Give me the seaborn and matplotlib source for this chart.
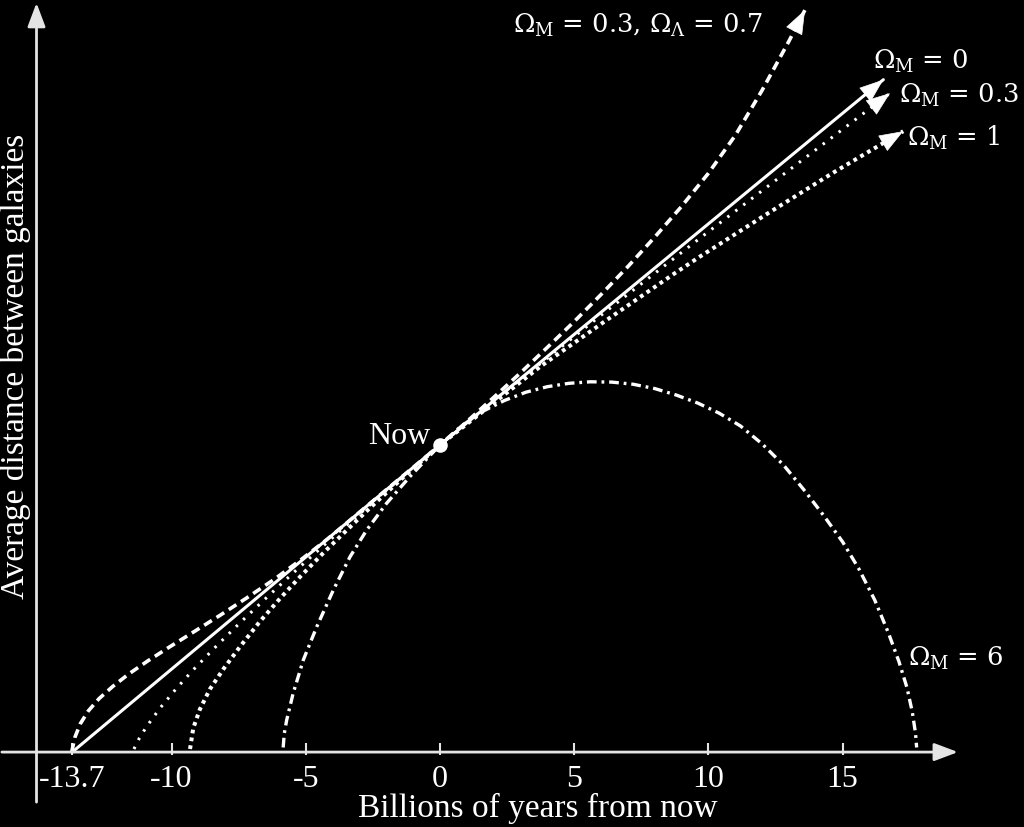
import matplotlib
matplotlib.use("Agg")
import matplotlib.pyplot as plt
import seaborn as sns
import pandas as pd

# ---------------- data ----------------
# time in billions of years from now, a = average distance (1 = now)
t_lambda = [-13.72, -13.6, -13.4, -13.1, -12.7, -12.2, -11.6, -10.9, -10.1, -9.2, -8.2,
            -7.2, -6.2, -5.2, -4.2, -3.2, -2.1, -1.0, 0.0, 1.0, 2.0, 3.0, 4.0, 5.0, 6.0,
            7.0, 8.0, 9.0, 10.0, 11.0, 12.0, 13.0, 13.6]
a_lambda = [0.0, 0.048, 0.092, 0.134, 0.174, 0.213, 0.254, 0.296, 0.341, 0.390, 0.445,
            0.502, 0.561, 0.625, 0.693, 0.766, 0.847, 0.927, 1.0, 1.076, 1.155, 1.235,
            1.318, 1.402, 1.490, 1.581, 1.677, 1.777, 1.885, 2.008, 2.155, 2.315, 2.417]

t_m0 = [-13.7, 0.0, 16.52]
a_m0 = [0.0, 1.0, 2.19]

t_m03 = [-11.40, -11.2, -10.93, -10.43, -9.81, -9.19, -8.32, -7.45, -6.46, -5.46, -4.47,
         -3.48, -1.74, 0.0, 2.24, 5.96, 9.69, 12.67, 16.77]
a_m03 = [0.01, 0.045, 0.083, 0.143, 0.208, 0.268, 0.346, 0.421, 0.503, 0.584, 0.662,
         0.739, 0.871, 1.0, 1.161, 1.420, 1.674, 1.873, 2.146]

t_m1 = [-9.31, -9.19, -8.94, -8.57, -8.07, -7.45, -6.71, -5.96, -5.22, -4.35, -3.48,
        -2.61, -1.30, 0.0, 3.73, 6.21, 8.69, 9.69, 12.17, 14.65, 17.26]
a_m1 = [0.01, 0.078, 0.140, 0.205, 0.270, 0.343, 0.425, 0.500, 0.570, 0.648, 0.722,
        0.795, 0.900, 1.0, 1.255, 1.407, 1.556, 1.614, 1.752, 1.887, 2.022]

t_m6 = [-5.84, -5.80, -5.71, -5.47, -5.09, -4.59, -3.97, -3.35, -2.73, -1.99, -1.12, 0.0,
        0.8, 1.6, 2.4, 3.2, 4.0, 4.8, 5.6, 6.4, 7.2, 8.0, 8.8, 9.6, 10.4, 11.2, 12.0,
        12.8, 13.6, 14.3, 15.0, 15.6, 16.2, 16.7, 17.1, 17.4, 17.6, 17.72, 17.76]
a_m6 = [0.015, 0.060, 0.104, 0.191, 0.300, 0.408, 0.528, 0.636, 0.723, 0.810, 0.897, 1.0,
        1.062, 1.110, 1.145, 1.172, 1.190, 1.201, 1.206, 1.205, 1.198, 1.184, 1.163, 1.137,
        1.104, 1.062, 1.004, 0.935, 0.850, 0.770, 0.685, 0.598, 0.495, 0.390, 0.295,
        0.210, 0.130, 0.060, 0.015]

now_t = [0.0]
now_a = [1.0]

tick_values = [-13.7, -10, -5, 0, 5, 10, 15]
tick_labels = ["-13.7", "-10", "-5", "0", "5", "10", "15"]

label_lambda = r"$\Omega_{\mathrm{M}}$ = 0.3, $\Omega_{\Lambda}$ = 0.7"
label_m0 = r"$\Omega_{\mathrm{M}}$ = 0"
label_m03 = r"$\Omega_{\mathrm{M}}$ = 0.3"
label_m1 = r"$\Omega_{\mathrm{M}}$ = 1"
label_m6 = r"$\Omega_{\mathrm{M}}$ = 6"
xlabel = "Billions of years from now"
ylabel = "Average distance between galaxies"

# ---------------- style ----------------
sns.set_theme(style="white", rc={"axes.facecolor": "black", "figure.facecolor": "black"})
plt.rcParams["font.family"] = ["Liberation Serif", "DejaVu Serif"]
plt.rcParams["mathtext.fontset"] = "dejavuserif"
plt.rcParams["lines.scale_dashes"] = False

WHITE = "white"
AXIS = "#e4e4e4"

fig = plt.figure(figsize=(10.24, 8.27), dpi=100, facecolor="black")
ax = fig.add_axes([0, 0, 1, 1])
ax.set_facecolor("black")
ax.set_xlim(-16.39, 21.76)
ax.set_ylim(-0.244, 2.4495)
ax.axis("off")

# axes with arrows
X_AXIS_START, X_AXIS_END = -16.32, 19.3
Y_AXIS_POS, Y_AXIS_BOTTOM, Y_AXIS_TOP = -15.03, -0.163, 2.44
axis_arrow = dict(arrowstyle="-|>,head_length=0.85,head_width=0.32", color=AXIS,
                  lw=2, shrinkA=0, shrinkB=0, mutation_scale=17)
ax.annotate("", xy=(X_AXIS_END, 0), xytext=(X_AXIS_START, 0), arrowprops=axis_arrow)
ax.annotate("", xy=(Y_AXIS_POS, Y_AXIS_TOP), xytext=(Y_AXIS_POS, Y_AXIS_BOTTOM),
            arrowprops=axis_arrow)
ax.vlines(tick_values, -0.01, 0.03, color=AXIS, lw=1.5)
for v, lab in zip(tick_values, tick_labels):
    ax.text(v, -0.114, lab, ha="center", va="baseline", fontsize=23, color=WHITE)
ax.text(3.65, -0.212, xlabel, ha="center", va="baseline", fontsize=24, color=WHITE)
ax.text(-15.80, 1.257, ylabel, ha="center", va="center", rotation=90, fontsize=24,
        color=WHITE)

# curves
curves = [
    (t_lambda, a_lambda, dict(lw=2.6, linestyle=(0, (6.5, 4.0)), dash_capstyle="butt"), True),
    (t_m0, a_m0, dict(lw=2.2, linestyle="-"), True),
    (t_m03, a_m03, dict(lw=2.2, linestyle=(0, (1.8, 5.4)), dash_capstyle="butt"), True),
    (t_m1, a_m1, dict(lw=2.9, linestyle=(0, (2.7, 3.0)), dash_capstyle="butt"), True),
    (t_m6, a_m6, dict(lw=2.4, linestyle=(0, (7.0, 3.5, 2.0, 3.5)), dash_capstyle="butt"),
     False),
]
for t, a, kw, arrow in curves:
    df = pd.DataFrame({"t": t, "a": a})
    sns.lineplot(data=df, x="t", y="a", ax=ax, color=WHITE, sort=False,
                 estimator=None, legend=False, solid_joinstyle="round", **kw)
    if arrow:
        tip = (t[-1], a[-1])
        base = (t[-1] - 0.04 * (t[-1] - t[-2]), a[-1] - 0.04 * (a[-1] - a[-2]))
        ax.annotate("", xy=tip, xytext=base,
                    arrowprops=dict(arrowstyle="-|>,head_length=0.85,head_width=0.32",
                                    color=WHITE, lw=0.5, shrinkA=0, shrinkB=0,
                                    mutation_scale=19))

# "Now" point
sns.scatterplot(x=now_t, y=now_a, ax=ax, s=110, color=WHITE, edgecolor=WHITE,
                linewidth=0, zorder=5, legend=False)
ax.text(-0.37, 1.003, "Now", ha="right", va="baseline", fontsize=23, color=WHITE)

# curve labels
lab_kw = dict(ha="left", va="baseline", fontsize=18.5, color=WHITE, family=["DejaVu Serif"])
ax.text(2.72, 2.342, label_lambda, **lab_kw)
ax.text(16.13, 2.225, label_m0, **lab_kw)
ax.text(17.10, 2.115, label_m03, **lab_kw)
ax.text(17.40, 1.974, label_m1, **lab_kw)
ax.text(17.44, 0.280, label_m6, **lab_kw)

ax.set_xlabel("")
ax.set_ylabel("")
fig.savefig("out.png", dpi=100, facecolor="black")
